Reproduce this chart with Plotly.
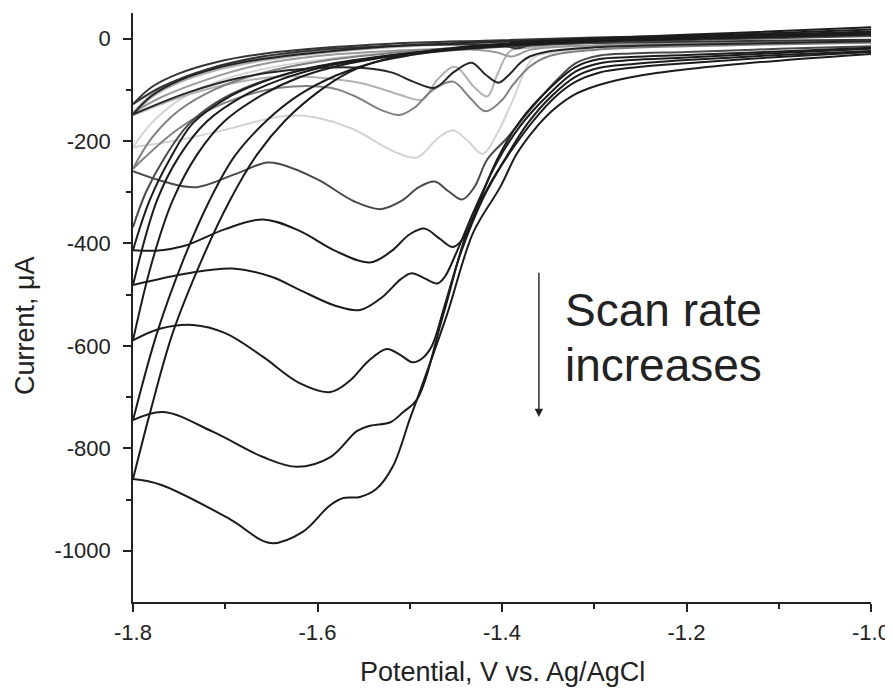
import plotly.graph_objects as go

# ---------------- data (potential V vs Ag/AgCl, current uA) ----------------
# forward (cathodic) branches, -1.0 -> -1.8 ; return branches, -1.8 -> -1.0
c1_fwd_v = [-1.0, -1.1, -1.185, -1.25, -1.294, -1.32, -1.345, -1.366, -1.384, -1.402, -1.431, -1.46, -1.492, -1.50, -1.518, -1.536, -1.554, -1.572, -1.587, -1.616, -1.651, -1.695, -1.77, -1.8]
c1_fwd_i = [-30, -43, -57, -72, -90, -108, -140, -180, -225, -290, -378, -541, -704, -743, -834, -879, -895, -897, -912, -963, -985, -938, -871, -860]
c1_ret_v = [-1.8, -1.78, -1.757, -1.725, -1.695, -1.665, -1.635, -1.60, -1.565, -1.53, -1.48, -1.4, -1.3, -1.15, -1.0]
c1_ret_i = [-860, -720, -575, -430, -316, -225, -160, -105, -65, -42, -24, -10, 0, 11, 22]

c2_fwd_v = [-1.0, -1.1, -1.2, -1.26, -1.294, -1.32, -1.34, -1.365, -1.389, -1.415, -1.438, -1.464, -1.492, -1.507, -1.521, -1.543, -1.557, -1.586, -1.622, -1.659, -1.713, -1.767, -1.8]
c2_fwd_i = [-26, -36, -48, -57, -66, -84, -110, -158, -216, -290, -378, -541, -704, -729, -749, -756, -766, -817, -836, -817, -768, -729, -745]
c2_ret_v = [-1.8, -1.774, -1.745, -1.717, -1.69, -1.655, -1.62, -1.58, -1.54, -1.48, -1.4, -1.3, -1.15, -1.0]
c2_ret_i = [-745, -575, -430, -316, -230, -160, -110, -72, -47, -27, -12, -2, 8, 18]

c3_fwd_v = [-1.0, -1.1, -1.2, -1.26, -1.294, -1.32, -1.345, -1.372, -1.395, -1.42, -1.445, -1.462, -1.476, -1.487, -1.497, -1.51, -1.525, -1.545, -1.565, -1.586, -1.62, -1.66, -1.70, -1.735, -1.77, -1.8]
c3_fwd_i = [-24, -32, -42, -50, -57, -74, -110, -165, -230, -310, -420, -520, -600, -625, -632, -618, -606, -630, -668, -690, -672, -620, -575, -559, -566, -589]
c3_ret_v = [-1.8, -1.78, -1.757, -1.73, -1.70, -1.66, -1.62, -1.57, -1.5, -1.4, -1.3, -1.15, -1.0]
c3_ret_i = [-589, -440, -316, -225, -160, -110, -76, -50, -30, -14, -4, 5, 14]

c4_fwd_v = [-1.0, -1.1, -1.2, -1.26, -1.294, -1.32, -1.35, -1.38, -1.405, -1.43, -1.45, -1.462, -1.47, -1.484, -1.498, -1.51, -1.53, -1.554, -1.58, -1.62, -1.65, -1.692, -1.74, -1.8]
c4_fwd_i = [-20, -28, -37, -42, -48, -64, -110, -170, -240, -335, -420, -465, -478, -468, -458, -470, -505, -530, -522, -490, -465, -449, -458, -481]
c4_ret_v = [-1.8, -1.774, -1.75, -1.72, -1.68, -1.64, -1.59, -1.52, -1.42, -1.3, -1.15, -1.0]
c4_ret_i = [-481, -316, -230, -162, -112, -80, -54, -33, -16, -5, 3, 11]

c5_fwd_v = [-1.0, -1.1, -1.2, -1.26, -1.294, -1.32, -1.35, -1.38, -1.405, -1.425, -1.44, -1.453, -1.468, -1.484, -1.50, -1.52, -1.543, -1.58, -1.62, -1.659, -1.70, -1.745, -1.775, -1.8]
c5_fwd_i = [-18, -25, -32, -36, -40, -55, -100, -160, -235, -320, -385, -407, -390, -371, -382, -415, -437, -415, -375, -353, -372, -405, -414, -413]
c5_ret_v = [-1.8, -1.782, -1.76, -1.735, -1.70, -1.66, -1.61, -1.54, -1.44, -1.3, -1.15, -1.0]
c5_ret_i = [-413, -316, -235, -165, -118, -85, -58, -37, -19, -6, 1, 8]

c6_fwd_v = [-1.0, -1.1, -1.2, -1.26, -1.294, -1.32, -1.34, -1.37, -1.395, -1.416, -1.43, -1.443, -1.458, -1.473, -1.49, -1.51, -1.532, -1.56, -1.60, -1.641, -1.655, -1.69, -1.731, -1.765, -1.8]
c6_fwd_i = [-15, -20, -26, -29, -33, -48, -80, -140, -195, -236, -290, -314, -298, -279, -290, -318, -333, -318, -275, -245, -242, -265, -290, -280, -259]
c6_ret_v = [-1.8, -1.786, -1.765, -1.74, -1.71, -1.67, -1.62, -1.55, -1.45, -1.3, -1.15, -1.0]
c6_ret_i = [-368, -300, -230, -168, -125, -90, -63, -41, -22, -8, -1, 5]

s1_fwd_v = [-1.0, -1.15, -1.28, -1.35, -1.37, -1.384, -1.398, -1.42, -1.47, -1.53, -1.6, -1.66, -1.72, -1.77, -1.8]
s1_fwd_i = [-2, -5, -8, -10, -13, -19, -14, -12, -12, -15, -22, -35, -60, -95, -128]
s1_ret_v = [-1.8, -1.78, -1.75, -1.71, -1.66, -1.6, -1.52, -1.42, -1.3, -1.15, -1.0]
s1_ret_i = [-128, -95, -68, -46, -30, -19, -10, -4, 2, 7, 12]

s2_fwd_v = [-1.0, -1.15, -1.28, -1.34, -1.37, -1.39, -1.405, -1.425, -1.47, -1.53, -1.6, -1.66, -1.72, -1.77, -1.8]
s2_fwd_i = [-4, -8, -12, -16, -22, -35, -27, -22, -21, -25, -34, -50, -80, -115, -145]
s2_ret_v = [-1.8, -1.78, -1.75, -1.71, -1.66, -1.6, -1.52, -1.42, -1.3, -1.15, -1.0]
s2_ret_i = [-145, -110, -80, -56, -38, -25, -14, -7, 0, 5, 10]

s3_fwd_v = [-1.0, -1.15, -1.3, -1.37, -1.391, -1.405, -1.416, -1.43, -1.451, -1.47, -1.486, -1.51, -1.55, -1.6, -1.641, -1.7, -1.75, -1.8]
s3_fwd_i = [-6, -10, -15, -18, -24, -70, -113, -95, -55, -80, -119, -110, -88, -76, -74, -90, -115, -150]
s3_ret_v = [-1.8, -1.78, -1.75, -1.71, -1.66, -1.6, -1.52, -1.42, -1.3, -1.15, -1.0]
s3_ret_i = [-150, -115, -86, -62, -43, -29, -17, -9, -2, 4, 9]

s4_fwd_v = [-1.0, -1.15, -1.3, -1.35, -1.37, -1.388, -1.40, -1.418, -1.435, -1.453, -1.475, -1.495, -1.511, -1.53, -1.56, -1.586, -1.641, -1.7, -1.75, -1.8]
s4_fwd_i = [-8, -13, -22, -35, -55, -90, -120, -142, -115, -84, -100, -135, -149, -140, -112, -96, -96, -125, -175, -254]
s4_ret_v = [-1.8, -1.78, -1.75, -1.71, -1.66, -1.6, -1.52, -1.42, -1.3, -1.15, -1.0]
s4_ret_i = [-254, -195, -140, -98, -67, -45, -28, -15, -5, 2, 8]

s5_fwd_v = [-1.0, -1.15, -1.3, -1.35, -1.37, -1.38, -1.392, -1.404, -1.418, -1.433, -1.452, -1.473, -1.495, -1.52, -1.554, -1.619, -1.68, -1.74, -1.8]
s5_fwd_i = [-5, -10, -17, -25, -35, -47, -70, -86, -70, -47, -65, -96, -85, -66, -57, -60, -75, -105, -148]
s5_ret_v = [-1.8, -1.78, -1.75, -1.71, -1.66, -1.6, -1.52, -1.42, -1.3, -1.15, -1.0]
s5_ret_i = [-148, -112, -82, -58, -40, -27, -15, -7, 0, 6, 11]

s6_fwd_v = [-1.0, -1.15, -1.28, -1.34, -1.366, -1.388, -1.405, -1.421, -1.437, -1.453, -1.47, -1.492, -1.52, -1.56, -1.605, -1.64, -1.70, -1.75, -1.8]
s6_fwd_i = [-6, -11, -18, -26, -38, -119, -185, -225, -200, -179, -195, -232, -218, -178, -153, -152, -178, -198, -212]
s6_ret_v = [-1.8, -1.78, -1.75, -1.71, -1.66, -1.6, -1.52, -1.42, -1.3, -1.15, -1.0]
s6_ret_i = [-212, -165, -120, -85, -60, -42, -27, -15, -6, 1, 7]

x_tick_vals = [-1.8, -1.6, -1.4, -1.2, -1.0]
x_tick_text = ["-1.8", "-1.6", "-1.4", "-1.2", "-1.0"]
x_minor_vals = [-1.7, -1.5, -1.3, -1.1]
y_tick_vals = [0, -200, -400, -600, -800, -1000]
y_tick_text = ["0", "-200", "-400", "-600", "-800", "-1000"]
y_minor_vals = [-100, -300, -500, -700, -900]

curves = [
    # (fwd_v, fwd_i, ret_v, ret_i, colour)
    (s6_fwd_v, s6_fwd_i, s6_ret_v, s6_ret_i, "#d4d4d4"),
    (s3_fwd_v, s3_fwd_i, s3_ret_v, s3_ret_i, "#b2b2b2"),
    (s2_fwd_v, s2_fwd_i, s2_ret_v, s2_ret_i, "#9a9a9a"),
    (s4_fwd_v, s4_fwd_i, s4_ret_v, s4_ret_i, "#808080"),
    (s1_fwd_v, s1_fwd_i, s1_ret_v, s1_ret_i, "#353535"),
    (s5_fwd_v, s5_fwd_i, s5_ret_v, s5_ret_i, "#262626"),
    (c6_fwd_v, c6_fwd_i, c6_ret_v, c6_ret_i, "#4a4a4a"),
    (c5_fwd_v, c5_fwd_i, c5_ret_v, c5_ret_i, "#1c1c1c"),
    (c4_fwd_v, c4_fwd_i, c4_ret_v, c4_ret_i, "#1c1c1c"),
    (c3_fwd_v, c3_fwd_i, c3_ret_v, c3_ret_i, "#1c1c1c"),
    (c2_fwd_v, c2_fwd_i, c2_ret_v, c2_ret_i, "#1c1c1c"),
    (c1_fwd_v, c1_fwd_i, c1_ret_v, c1_ret_i, "#1c1c1c"),
]

fig = go.Figure()
for fv, fi, rv, ri, col in curves:
    for xs, ys in ((fv, fi), (rv, ri)):
        fig.add_trace(go.Scatter(
            x=xs, y=ys, mode="lines",
            line=dict(color=col, width=2.0, shape="spline", smoothing=1.0),
            hoverinfo="skip", showlegend=False,
        ))

FONT = "Liberation Sans, Arial, sans-serif"
INK = "#222222"

# the page body adds an 8 px offset, so the plot box is placed 8 px up/left
fig.update_layout(
    width=893, height=690,
    margin=dict(l=125, r=30, t=5, b=96, autoexpand=False),
    plot_bgcolor="white", paper_bgcolor="white",
    showlegend=False,
    font=dict(family=FONT, color=INK),
    xaxis=dict(
        range=[-1.8, -1.0], showgrid=False, zeroline=False, automargin=False,
        showline=True, linecolor=INK, linewidth=1.5,
        tickmode="array", tickvals=x_tick_vals, ticktext=x_tick_text,
        ticks="outside", ticklen=8, tickwidth=1.5, tickcolor=INK,
        ticklabelstandoff=2,
        tickfont=dict(size=22, family=FONT, color=INK),
        minor=dict(tickmode="array", tickvals=x_minor_vals,
                   ticks="outside", ticklen=5, tickwidth=1.5, tickcolor=INK),
    ),
    yaxis=dict(
        range=[-1100, 50], showgrid=False, zeroline=False, automargin=False,
        showline=True, linecolor=INK, linewidth=1.5,
        tickmode="array", tickvals=y_tick_vals, ticktext=y_tick_text,
        ticks="outside", ticklen=8, tickwidth=1.5, tickcolor=INK,
        ticklabelstandoff=8,
        tickfont=dict(size=22, family=FONT, color=INK),
        minor=dict(tickmode="array", tickvals=y_minor_vals,
                   ticks="outside", ticklen=5, tickwidth=1.5, tickcolor=INK),
    ),
    annotations=[
        dict(x=-1.36, y=-739, ax=-1.36, ay=-454, xref="x", yref="y",
             axref="x", ayref="y", text="", showarrow=True,
             arrowhead=2, arrowsize=1.2, arrowwidth=1.4, arrowcolor=INK, standoff=0),
        dict(x=-1.334, y=-530, xref="x", yref="y", text="Scan rate",
             showarrow=False, xanchor="left", yanchor="middle",
             font=dict(size=46, family=FONT, color=INK)),
        dict(x=-1.334, y=-637, xref="x", yref="y", text="increases",
             showarrow=False, xanchor="left", yanchor="middle",
             font=dict(size=46, family=FONT, color=INK)),
        dict(x=0.5, y=-0.1195, xref="paper", yref="paper",
             text="Potential, V vs. Ag/AgCl", showarrow=False,
             xanchor="center", yanchor="middle",
             font=dict(size=27, family=FONT, color=INK)),
        dict(x=-0.1463, y=0.4686, xref="paper", yref="paper",
             text="Current, μA", showarrow=False, textangle=-90,
             xanchor="center", yanchor="middle",
             font=dict(size=27, family=FONT, color=INK)),
    ],
)

fig.write_html("out.html")
